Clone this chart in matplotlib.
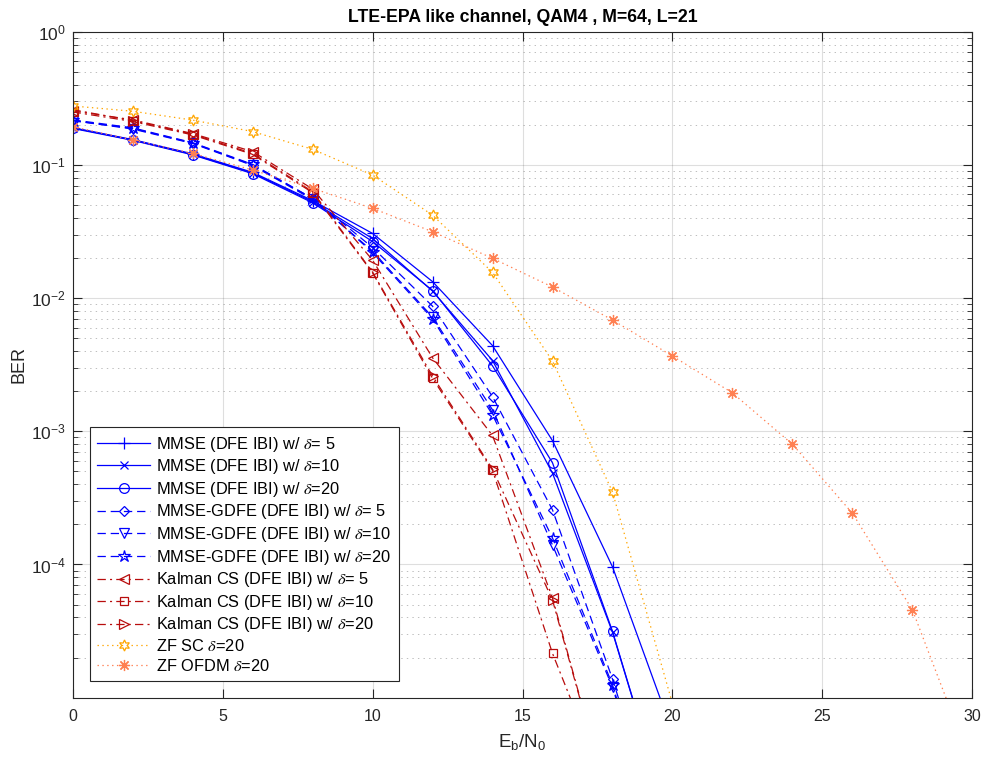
import numpy as np
import matplotlib
matplotlib.use('Agg')
import matplotlib.pyplot as plt

plt.rcParams['font.family'] = ['Liberation Sans', 'DejaVu Sans']
plt.rcParams['mathtext.fontset'] = 'stix'
plt.rcParams['axes.unicode_minus'] = False
plt.rcParams['lines.scale_dashes'] = False

# Eb/N0 grid
snr = [0, 2, 4, 6, 8, 10, 12, 14, 16, 18, 20]
snr_ofdm = [0, 2, 4, 6, 8, 10, 12, 14, 16, 18, 20, 22, 24, 26, 28, 30]

# MMSE (DFE IBI)
mmse_d5 = [0.19, 0.155, 0.121, 0.088, 0.054, 0.0306, 0.0133, 0.0044, 8.5e-4, 9.6e-5, 5.5e-6]
mmse_d10 = [0.19, 0.154, 0.12, 0.087, 0.053, 0.028, 0.0113, 0.0034, 4.85e-4, 3.1e-5, 1e-6]
mmse_d20 = [0.188, 0.153, 0.119, 0.086, 0.052, 0.0266, 0.0114, 0.0031, 5.8e-4, 3.15e-5, 1e-6]

# MMSE-GDFE (DFE IBI)
gdfe_d5 = [0.215, 0.188, 0.146, 0.1, 0.056, 0.024, 0.0087, 0.00182, 2.57e-4, 1.38e-5, 5e-7]
gdfe_d10 = [0.215, 0.186, 0.145, 0.099, 0.055, 0.0225, 0.0072, 0.00145, 1.4e-4, 1.2e-5, 4e-7]
gdfe_d20 = [0.218, 0.19, 0.147, 0.101, 0.056, 0.022, 0.007, 0.00133, 1.58e-4, 1.25e-5, 4e-7]

# Kalman CS (DFE IBI)
kal_d5 = [0.255, 0.218, 0.172, 0.126, 0.066, 0.0193, 0.00357, 9.3e-4, 5.6e-5, 1.3e-6, 1e-8]
kal_d10 = [0.25, 0.212, 0.168, 0.12, 0.062, 0.0155, 0.0025, 5.1e-4, 2.15e-5, 1.6e-6, 1e-8]
kal_d20 = [0.26, 0.215, 0.17, 0.122, 0.063, 0.0157, 0.0026, 5.2e-4, 5.4e-5, 1.3e-6, 1e-8]

# zero forcing references
zf_sc = [0.277, 0.253, 0.217, 0.178, 0.131, 0.084, 0.042, 0.0156, 0.00337, 3.5e-4, 9e-6]
zf_ofdm = [0.194, 0.154, 0.122, 0.0916, 0.0667, 0.0472, 0.0315, 0.0199, 0.0121, 0.00684,
           0.00367, 0.00194, 7.98e-4, 2.42e-4, 4.55e-5, 3e-6]

blue = (0, 0, 1)
red = (0.72, 0.05, 0.05)
orange = (1.0, 0.65, 0.0)
coral = (1.0, 0.5, 0.32)
dark = (0.15, 0.15, 0.15)

dash = (0, (6, 3.5))
dashdot = (0, (6, 3, 1.5, 3))
dot = (0, (1, 2.5))

hexagram = (6, 1, 0)
asterisk = (8, 2, 0)

fig = plt.figure(figsize=(9.84, 7.62), dpi=100)
ax = fig.add_axes([0.0737, 0.0844, 0.9146, 0.874])

lw = 0.9
ms = 7
series = [
    (snr, mmse_d5, blue, '-', '+', ms + 1, r'MMSE (DFE IBI) w/ $\delta$= 5'),
    (snr, mmse_d10, blue, '-', 'x', ms - 1, r'MMSE (DFE IBI) w/ $\delta$=10'),
    (snr, mmse_d20, blue, '-', 'o', ms, r'MMSE (DFE IBI) w/ $\delta$=20'),
    (snr, gdfe_d5, blue, dash, 'D', ms - 1.5, r'MMSE-GDFE (DFE IBI) w/ $\delta$= 5'),
    (snr, gdfe_d10, blue, dash, 'v', ms, r'MMSE-GDFE (DFE IBI) w/ $\delta$=10'),
    (snr, gdfe_d20, blue, dash, '*', ms + 2, r'MMSE-GDFE (DFE IBI) w/ $\delta$=20'),
    (snr, kal_d5, red, dashdot, '<', ms, r'Kalman CS (DFE IBI) w/ $\delta$= 5'),
    (snr, kal_d10, red, dashdot, 's', ms - 1, r'Kalman CS (DFE IBI) w/ $\delta$=10'),
    (snr, kal_d20, red, dashdot, '>', ms, r'Kalman CS (DFE IBI) w/ $\delta$=20'),
    (snr, zf_sc, orange, dot, hexagram, ms + 1, r'ZF SC $\delta$=20'),
    (snr_ofdm, zf_ofdm, coral, dot, asterisk, ms + 1, r'ZF OFDM $\delta$=20'),
]

for x, y, c, ls, mk, size, lab in series:
    ax.semilogy(x, y, color=c, linestyle=ls, linewidth=lw, marker=mk, markersize=size,
                markerfacecolor='none', markeredgecolor=c, markeredgewidth=0.9, label=lab)

ax.set_xlim(0, 30)
ax.set_ylim(1e-5, 1)
ax.set_xticks(np.arange(0, 31, 5))
ax.set_yticks([1e-4, 1e-3, 1e-2, 1e-1, 1])
ax.yaxis.set_minor_locator(matplotlib.ticker.LogLocator(base=10, subs=np.arange(2, 10), numticks=20))
ax.yaxis.set_minor_formatter(matplotlib.ticker.NullFormatter())

ax.grid(True, which='major', color=dark, alpha=0.15, linewidth=0.8, linestyle='-')
ax.grid(True, which='minor', axis='y', color=dark, alpha=0.3, linewidth=0.7,
        linestyle=(0, (1, 3)))
ax.set_axisbelow(True)

ax.tick_params(which='both', direction='in', top=True, right=True, colors=dark)
ax.tick_params(axis='x', labelsize=11.5, pad=8)
ax.tick_params(axis='y', labelsize=12.5, pad=5)
ax.tick_params(which='major', length=6.5, width=0.8)
ax.tick_params(which='minor', length=3.5, width=0.6)
for s in ax.spines.values():
    s.set_color(dark)
    s.set_linewidth(0.8)

ax.set_title('LTE-EPA like channel, QAM4 , M=64, L=21', fontsize=12.7, fontweight='bold', pad=7)
ax.set_xlabel(r'$\mathregular{E_b/N_0}$', fontsize=13.5, color=dark, labelpad=6)
ax.set_ylabel('BER', fontsize=13, color=dark, labelpad=2)

leg = ax.legend(loc='lower left', bbox_to_anchor=(0.0194, 0.025), borderaxespad=0,
                fontsize=11.8, handlelength=3.2, labelspacing=0.22, fancybox=False,
                framealpha=1, edgecolor=dark, borderpad=0.45, handletextpad=0.4)
leg.get_frame().set_linewidth(0.8)

fig.savefig('out.png', dpi=100)
